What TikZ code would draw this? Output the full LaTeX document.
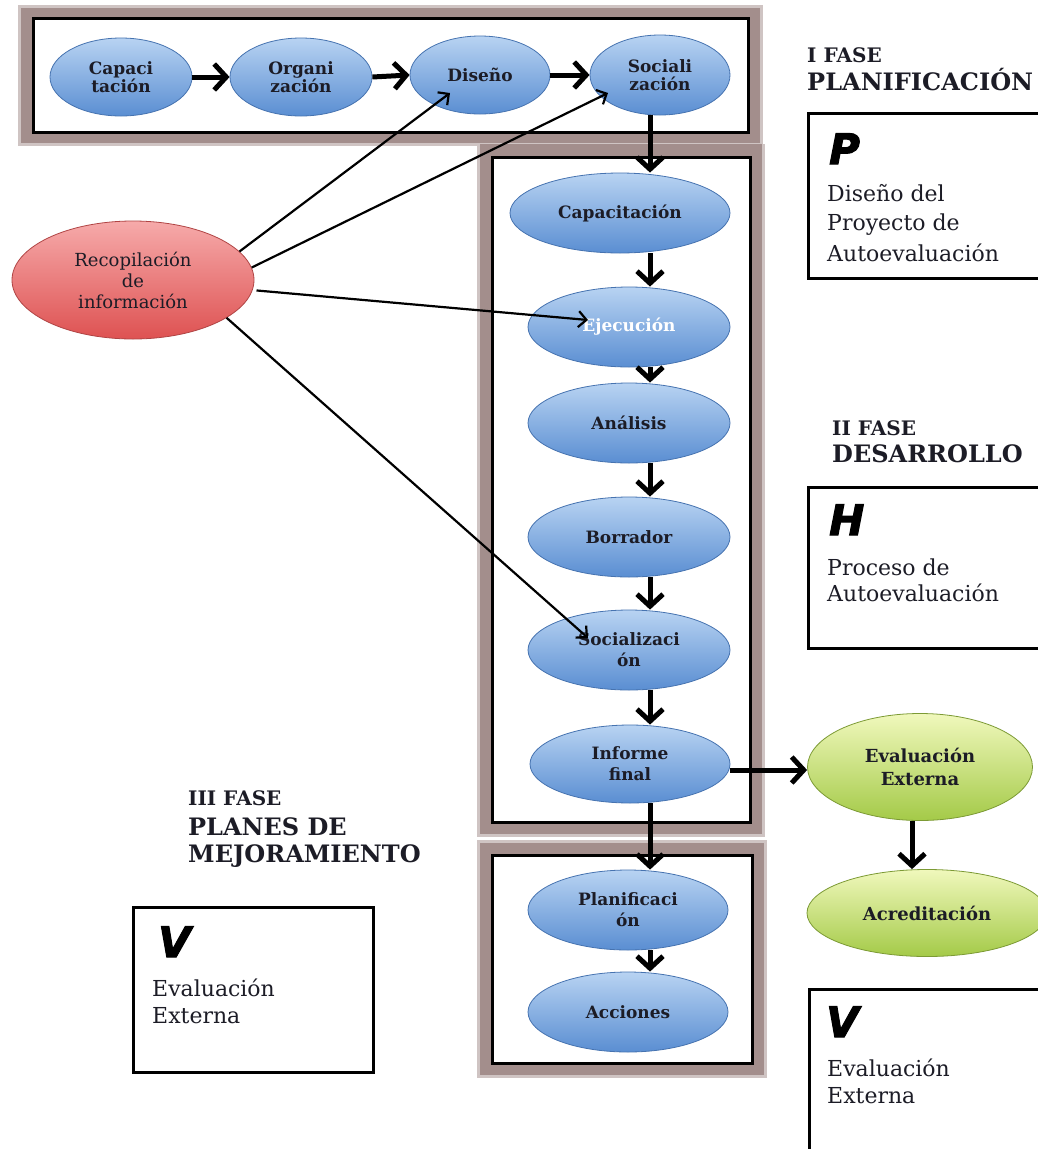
\documentclass[tikz,border=0pt]{standalone}
\usepackage{fontspec}
\setmainfont{DejaVu Serif}
\newfontfamily\letterfont{DejaVu Sans}[BoldItalicFeatures={FakeBold=2.5}]
\usetikzlibrary{arrows.meta,calc,shapes.geometric}
\definecolor{bTop}{HTML}{B8D3F2}
\definecolor{bBot}{HTML}{5A8ED2}
\definecolor{bBord}{HTML}{4673B0}
\definecolor{rTop}{HTML}{F6AAAA}
\definecolor{rBot}{HTML}{DE5252}
\definecolor{rBord}{HTML}{B04444}
\definecolor{gTop}{HTML}{F0F8BC}
\definecolor{gBot}{HTML}{A4CA48}
\definecolor{gBord}{HTML}{7C9A34}
\definecolor{frameBrown}{HTML}{A38E8C}
\definecolor{frameLight}{HTML}{CFC4C3}
\definecolor{txt}{HTML}{1C1C26}
\begin{document}
\begin{tikzpicture}[x=1pt,y=-1pt,
  ell/.style={ellipse, inner sep=0pt, line width=0.8pt, align=center, text=txt,
    font=\bfseries\fontsize{17}{18}\selectfont},
  blueell/.style={ell, top color=bTop, bottom color=bBot, draw=bBord},
  colell/.style={blueell, minimum width=202pt, minimum height=80pt,
    font=\bfseries\fontsize{17}{21}\selectfont},
  topell/.style={blueell, minimum width=142pt, minimum height=78pt},
  greenell/.style={ell, top color=gTop, bottom color=gBot, draw=gBord,
    font=\bfseries\fontsize{18}{23}\selectfont},
  redell/.style={ell, top color=rTop, bottom color=rBot, draw=rBord,
    font=\fontsize{18}{21}\selectfont},
  bigarr/.style={line width=5pt, -{Straight Barb[length=12pt,width=26pt]}},
  thinarr/.style={line width=2.2pt, -{Straight Barb[length=8pt,width=16pt]}},
  frame/.style={fill=white, draw=black, line width=3pt},
  heading/.style={anchor=base west, inner sep=0pt, text=txt, font=\bfseries\fontsize{24}{26}\selectfont},
  subhead/.style={anchor=base west, inner sep=0pt, text=txt, font=\bfseries\fontsize{20}{22}\selectfont},
  body/.style={anchor=base west, inner sep=0pt, text=txt, font=\fontsize{22}{24}\selectfont},
  letter/.style={anchor=base west, inner sep=0pt, font=\letterfont\bfseries\itshape\fontsize{42}{44}\selectfont},
  plain/.style={fill=white, draw=black, line width=3pt}
]
\useasboundingbox (0,0) rectangle (1038,1149);
\clip (0,0) rectangle (1038,1149);
\fill[white] (0,0) rectangle (1038,1149);

% framed groups
\fill[frameLight] (18,5) rectangle (763,146);
\fill[frameBrown] (21,8) rectangle (760,143);
\draw[frame] (33,18) rectangle (748,132);

\fill[frameLight] (477,144) rectangle (765,837);
\fill[frameBrown] (480,144) rectangle (762,834);
\draw[frame] (492,157) rectangle (750,822);

\fill[frameLight] (477,840) rectangle (767,1078);
\fill[frameBrown] (480,843) rectangle (764,1075);
\draw[frame] (492,855) rectangle (752,1063);

% text boxes
\draw[plain] (808,113) rectangle (1050,278);
\draw[plain] (808,487) rectangle (1050,648);
\draw[plain] (809,989) rectangle (1050,1160);
\draw[plain] (133,907) rectangle (373,1072);

% top row
\node[topell] (ca1) at (121,77) {Capaci\\tación};
\node[topell] (org) at (301,77) {Organi\\zación};
\node[topell, minimum width=140pt] (dis) at (480,75) {Diseño};
\node[topell, minimum width=140pt, minimum height=80pt] (so1) at (660,75) {Sociali\\zación};

% column
\node[colell, minimum width=220pt] (cap) at (620,213) {Capacitación};
\node[colell, text=white] (eje) at (629,327) {Ejecución};
\node[colell] (ana) at (629,423) {Análisis};
\node[colell] (bor) at (629,537) {Borrador};
\node[colell] (so2) at (629,650) {Socializaci\\ón};
\node[colell, minimum width=200pt, minimum height=78pt] (inf) at (630,764) {Informe\\final};
\node[colell, minimum width=200pt] (pla) at (628,910) {Planificaci\\ón};
\node[colell, minimum width=200pt] (acc) at (628,1012) {Acciones};

% green
\node[greenell, minimum width=225pt, minimum height=107pt] (eva) at (920,767) {Evaluación\\Externa};
\node[greenell, minimum width=240pt, minimum height=87pt] (acr) at (927,913) {Acreditación};

% red
\node[redell, minimum width=242pt, minimum height=118pt] (rec) at (133,280) {Recopilación\\de\\información};

% arrow axis
\coordinate (ax) at (650,0);

% top-row arrows
\draw[bigarr] (ca1.east) -- (org.west);
\draw[bigarr] (org.east) -- (dis.west);
\draw[bigarr] (dis.east) -- (so1.west);
\draw[bigarr] (so1.south -| ax) -- (cap.north -| ax);

% column arrows
\draw[bigarr] (cap.south -| ax) -- (eje.north -| ax);
\draw[bigarr] (eje.south -| ax) -- (ana.north -| ax);
\draw[bigarr] (ana.south -| ax) -- (bor.north -| ax);
\draw[bigarr] (bor.south -| ax) -- (so2.north -| ax);
\draw[bigarr] (so2.south -| ax) -- (inf.north -| ax);
\draw[bigarr] (inf.south -| ax) -- (pla.north -| ax);
\draw[bigarr] (pla.south -| ax) -- (acc.north -| ax);
\draw[bigarr] ($(inf.east)+(0,6)$) -- ($(inf.east -| eva.west)+(0,6)$);
\draw[bigarr] ($(eva.south)+(-8,0)$) -- ($(eva.south |- acr.north)+(-8,0)$);

% arrows from Recopilación
\draw[thinarr] (rec.15) -- ($(dis)+(-30,18)$);
\draw[thinarr] (rec.6) -- ($(so1)+(-52,18)$);
\draw[thinarr] ($(rec.-5)+(4,0)$) -- ($(eje)+(-41,-7)$);
\draw[thinarr] (rec.-22) -- ($(so2)+(-41,-12)$);

% headings
\node[subhead] (h1a) at (807,62) {I FASE};
\node[heading] (h1b) at (807,90) {PLANIFICACIÓN};
\node[subhead] (h2a) at (832,435) {II FASE};
\node[heading] (h2b) at (832,462) {DESARROLLO};
\node[subhead] (h3a) at (188,805) {III FASE};
\node[heading] (h3b) at (188,835) {PLANES DE};
\node[heading] (h3c) at (188,862) {MEJORAMIENTO};

% box contents
\node[letter] (lp) at (829,164) {P};
\node[body] (p1) at (827,201) {Diseño del};
\node[body] (p2) at (827,230) {Proyecto de};
\node[body] (p3) at (827,261) {Autoevaluación};

\node[letter] (lh) at (829,535) {H};
\node[body] (hb1) at (827,575) {Proceso de};
\node[body] (hb2) at (827,601) {Autoevaluación};

\node[letter] (lv1) at (158,957) {V};
\node[body] (v1a) at (152,996) {Evaluación};
\node[body] (v1b) at (152,1023) {Externa};

\node[letter] (lv2) at (826,1037) {V};
\node[body] (v2a) at (827,1076) {Evaluación};
\node[body] (v2b) at (827,1103) {Externa};
\end{tikzpicture}
\end{document}
